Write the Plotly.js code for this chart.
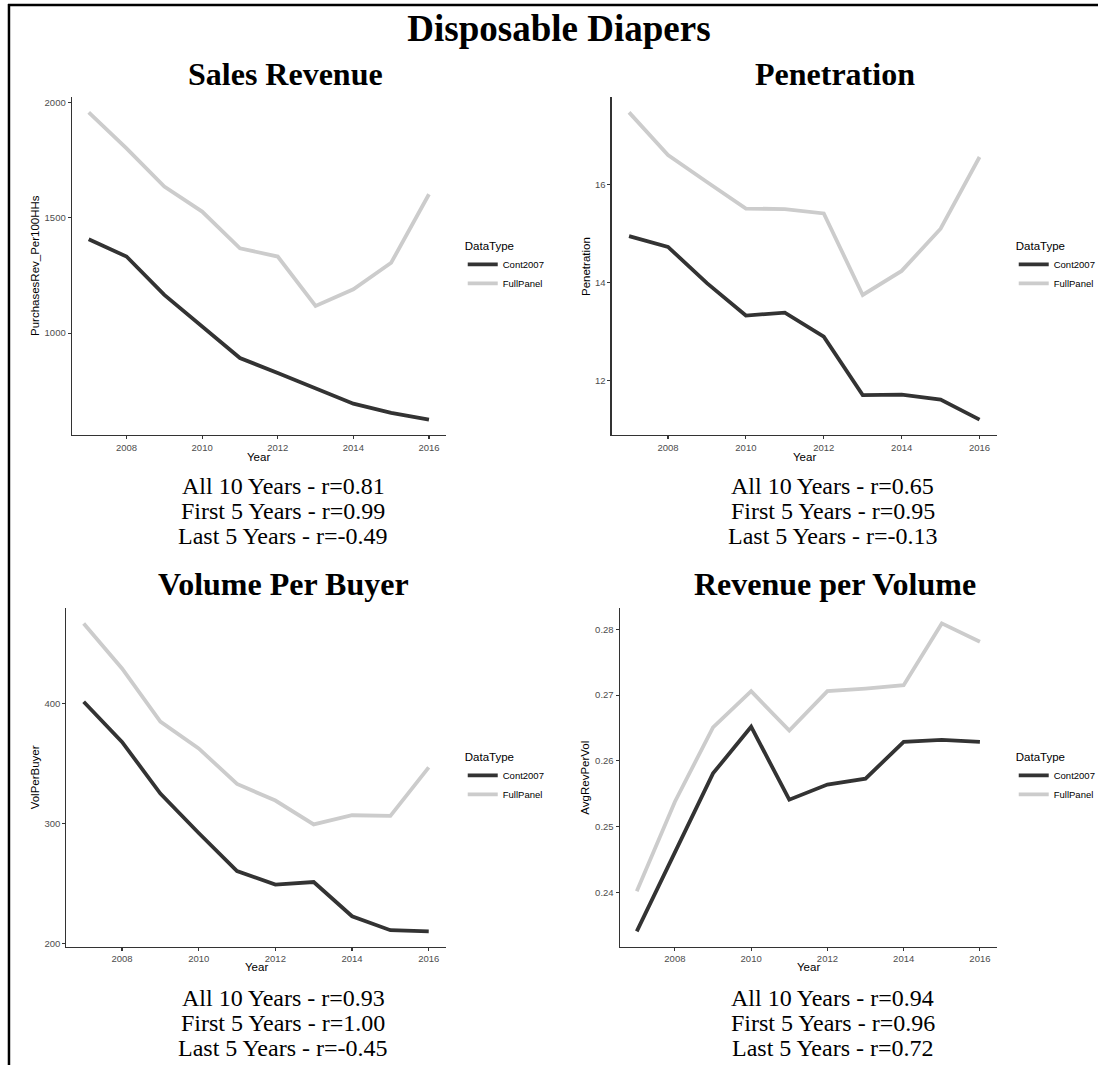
<!DOCTYPE html>
<html>
<head>
<meta charset="utf-8">
<script src="https://cdn.plot.ly/plotly-3.0.1.min.js"></script>
<style>html,body{margin:0;padding:0;background:#fff;}#chart{width:1101px;height:1065px;}</style>
</head>
<body>
<div id="chart"></div>
<script>
// ---------- DATA ----------
const years = [2007, 2008, 2009, 2010, 2011, 2012, 2013, 2014, 2015, 2016];
const seriesNames = ['Cont2007', 'FullPanel'];

const salesCont = [1407, 1332, 1166, 1029, 892, 827, 762, 694, 654, 625];
const salesFull = [1957, 1801, 1635, 1527, 1368, 1332, 1118, 1190, 1305, 1602];

const penCont = [14.95, 14.73, 13.99, 13.33, 13.39, 12.90, 11.71, 11.72, 11.62, 11.21];
const penFull = [17.47, 16.60, 16.05, 15.51, 15.50, 15.41, 13.75, 14.24, 15.10, 16.56];

const vpbCont = [401.4, 368.0, 325.0, 292.2, 260.6, 249.3, 251.5, 223.0, 211.4, 210.5];
const vpbFull = [466.5, 429.0, 384.8, 362.6, 333.0, 319.2, 299.4, 307.0, 306.5, 346.8];

const rpvCont = [0.2341, 0.2462, 0.2581, 0.2652, 0.2541, 0.2564, 0.2573, 0.2629, 0.2632, 0.2629];
const rpvFull = [0.2402, 0.2538, 0.2651, 0.2706, 0.2646, 0.2706, 0.2710, 0.2715, 0.2809, 0.2781];

const mainTitle = 'Disposable Diapers';
const panelTitles = ['Sales Revenue', 'Penetration', 'Volume Per Buyer', 'Revenue per Volume'];
const yTitles = ['PurchasesRev_Per100HHs', 'Penetration', 'VolPerBuyer', 'AvgRevPerVol'];
const xTitle = 'Year';
const legendTitle = 'DataType';

const xTickVals = [2008, 2010, 2012, 2014, 2016];
const xTickText = ['2008', '2010', '2012', '2014', '2016'];
const yTickVals = [
  [1000, 1500, 2000],
  [12, 14, 16],
  [200, 300, 400],
  [0.24, 0.25, 0.26, 0.27, 0.28]
];
const yTickText = [
  ['1000', '1500', '2000'],
  ['12', '14', '16'],
  ['200', '300', '400'],
  ['0.24', '0.25', '0.26', '0.27', '0.28']
];

const corrAll = ['0.81', '0.65', '0.93', '0.94'];
const corrFirst = ['0.99', '0.95', '1.00', '0.96'];
const corrLast = ['-0.49', '-0.13', '-0.45', '0.72'];

// ---------- LAYOUT HELPERS ----------
const W = 1101, H = 1065;
const px = x => x / W;
const py = y => 1 - y / H;

const geom = [
  {x0: 71.9, x1: 447.2, y0: 97, y1: 435, ytx: 35.1, tX: 285.9, tY: 73.7, cX: 284.2, cY: [485.9, 510.9, 535.9], yearY: 456.7, legX: 464, legY: 235},
  {x0: 613.2, x1: 999.8, y0: 97, y1: 435, ytx: 587.6, tX: 837.0, tY: 73.7, cX: 835.0, cY: [485.9, 510.9, 535.9], yearY: 456.7, legX: 1016.5, legY: 235},
  {x0: 66.6, x1: 447.2, y0: 608, y1: 946.7, ytx: 35.1, tX: 284.6, tY: 583.7, cX: 284.2, cY: [997.9, 1022.9, 1047.9], yearY: 967.3, legX: 464, legY: 746},
  {x0: 621.3, x1: 999.8, y0: 608, y1: 946.7, ytx: 586.9, tX: 837.6, tY: 583.7, cX: 835.0, cY: [997.9, 1022.9, 1047.9], yearY: 967.3, legX: 1016.5, legY: 746}
];

const panelData = [
  [salesCont, salesFull],
  [penCont, penFull],
  [vpbCont, vpbFull],
  [rpvCont, rpvFull]
];

const lineColors = ['#333333', '#cccccc'];
const sansFont = 'Liberation Sans, Arial, Helvetica, sans-serif';
const serifFont = 'Liberation Serif, Times New Roman, serif';

function expandRange(arrs) {
  const all = [].concat(...arrs);
  const mn = Math.min(...all), mx = Math.max(...all);
  const pad = (mx - mn) * 0.05;
  return [mn - pad, mx + pad];
}
const xRange = expandRange([years]);

const traces = [];
const layout = {
  width: W, height: H,
  margin: {l: 0, r: 0, t: 0, b: 0, pad: 0},
  paper_bgcolor: '#ffffff',
  plot_bgcolor: '#ffffff',
  showlegend: true,
  title: {
    text: '<b>' + mainTitle + '</b>',
    font: {family: serifFont, size: 37, color: '#000000'},
    x: px(560.5), xref: 'paper', xanchor: 'center',
    y: py(28.2), yref: 'container', yanchor: 'middle'
  },
  annotations: [],
  shapes: [
    {type: 'line', xref: 'paper', yref: 'paper', x0: px(8), x1: px(1101), y0: py(5), y1: py(5), line: {color: '#000000', width: 2.5}},
    {type: 'line', xref: 'paper', yref: 'paper', x0: px(9), x1: px(9), y0: py(4), y1: py(1065), line: {color: '#000000', width: 2.5}}
  ]
};

for (let i = 0; i < 4; i++) {
  const g = geom[i];
  const n = i === 0 ? '' : String(i + 1);
  const xa = 'x' + n, ya = 'y' + n;
  const legName = 'legend' + n;

  for (let s = 0; s < 2; s++) {
    traces.push({
      type: 'scatter', mode: 'lines',
      x: years, y: panelData[i][s],
      name: seriesNames[s],
      xaxis: xa, yaxis: ya,
      legend: legName,
      line: {color: lineColors[s], width: 3.8},
      hoverinfo: 'skip'
    });
  }

  const axisCommon = {
    showline: true, linecolor: '#333333', linewidth: 1.1,
    ticks: 'outside', ticklen: 3, tickwidth: 1.1, tickcolor: '#333333',
    showgrid: false, zeroline: false, automargin: false,
    tickfont: {family: sansFont, size: 9.5, color: '#4d4d4d'},
    fixedrange: true
  };
  layout['xaxis' + n] = Object.assign({}, axisCommon, {
    domain: [px(g.x0), px(g.x1)],
    anchor: ya, range: xRange,
    tickmode: 'array', tickvals: xTickVals, ticktext: xTickText
  });
  layout['yaxis' + n] = Object.assign({}, axisCommon, {
    domain: [py(g.y1), py(g.y0)],
    anchor: xa, range: expandRange(panelData[i]),
    tickmode: 'array', tickvals: yTickVals[i], ticktext: yTickText[i]
  });

  layout[legName] = {
    x: px(g.legX), y: py(g.legY), xref: 'paper', yref: 'paper',
    xanchor: 'left', yanchor: 'top',
    bgcolor: 'rgba(0,0,0,0)', borderwidth: 0,
    title: {text: legendTitle, font: {family: sansFont, size: 11.5, color: '#000000'}},
    font: {family: sansFont, size: 9.5, color: '#000000'},
    itemwidth: 30, tracegroupgap: 0
  };

  const ann = layout.annotations;
  ann.push({text: '<b>' + panelTitles[i] + '</b>', x: px(g.tX), y: py(g.tY), xref: 'paper', yref: 'paper',
    xanchor: 'center', yanchor: 'middle', showarrow: false,
    font: {family: serifFont, size: 32, color: '#000000'}});
  ann.push({text: yTitles[i], x: px(g.ytx), y: py((g.y0 + g.y1) / 2), xref: 'paper', yref: 'paper',
    xanchor: 'center', yanchor: 'middle', showarrow: false, textangle: -90,
    font: {family: sansFont, size: 11.5, color: '#000000'}});
  ann.push({text: xTitle, x: px((g.x0 + g.x1) / 2), y: py(g.yearY), xref: 'paper', yref: 'paper',
    xanchor: 'center', yanchor: 'middle', showarrow: false,
    font: {family: sansFont, size: 11.5, color: '#000000'}});
  const lines = [
    'All 10 Years - r=' + corrAll[i],
    'First 5 Years - r=' + corrFirst[i],
    'Last 5 Years - r=' + corrLast[i]
  ];
  for (let k = 0; k < 3; k++) {
    ann.push({text: lines[k], x: px(g.cX), y: py(g.cY[k]), xref: 'paper', yref: 'paper',
      xanchor: 'center', yanchor: 'middle', showarrow: false,
      font: {family: serifFont, size: 24, color: '#000000'}});
  }
}

Plotly.newPlot('chart', traces, layout, {staticPlot: true, displayModeBar: false});
</script>
</body>
</html>
